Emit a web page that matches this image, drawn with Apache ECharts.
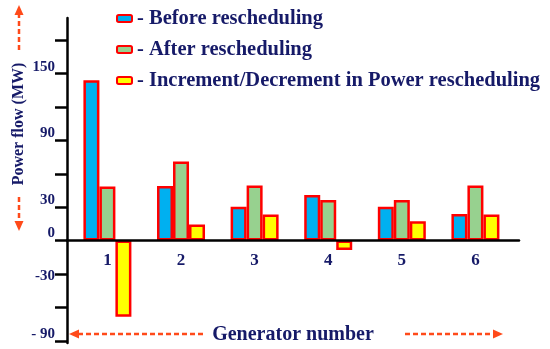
<!DOCTYPE html>
<html><head><meta charset="utf-8">
<script src="https://cdn.jsdelivr.net/npm/echarts@6/dist/echarts.min.js"></script>
<style>html,body{margin:0;padding:0;background:#fff}#c{width:550px;height:349px}</style>
</head><body><div id="c"></div>
<script>
// ---- data ----
const generators = ['1', '2', '3', '4', '5', '6'];
const beforeResched = [144, 49, 30.5, 41, 30.5, 24];
const afterResched = [48.5, 71, 49.5, 36.5, 36.5, 49.5];
const incrDecr = [-68.5, 14.5, 23.5, -8.5, 17.5, 23.5];
const seriesNames = ['Before rescheduling', 'After rescheduling', 'Increment/Decrement in Power rescheduling'];
const yTickValues = [-90, -60, -30, 0, 30, 60, 90, 120, 150, 180];
const yLabelValues = [-90, -30, 0, 30, 90, 150];
const yLabelTexts = ['- 90', '-30', '0', '30', '90', '150'];
const xLabelValues = [1, 2, 3, 4, 5, 6];

// ---- styling ----
const NAVY = '#161a68';
const RED = '#ff0000';
const ARROW = '#ff4a1a';
const FONT = "'Liberation Serif','Times New Roman',serif";
const fills = ['#00b0f0', '#97d18f', '#ffff00'];
const dataSets = [beforeResched, afterResched, incrDecr];

const W = 550, H = 349;
const GRID = {left: 67, right: 31, top: 18, bottom: 6};
const Y_MIN = -92, Y_MAX = 200;
// place the x axis (line, labels, name) at the y = 0 level
const plotH = H - GRID.top - GRID.bottom;
const zeroY = GRID.top + (Y_MAX - 0) / (Y_MAX - Y_MIN) * plotH;
const xAxisOffset = -((H - GRID.bottom) - zeroY);

const chart = echarts.init(document.getElementById('c'), null, {renderer: 'canvas'});

function dashedArrow(x1, y1, x2, y2) {
  const dx = x2 - x1, dy = y2 - y1, L = Math.hypot(dx, dy);
  const ux = dx / L, uy = dy / L, px = -uy, py = ux;
  const hl = 10, hw = 4.5;
  const bx = x2 - ux * hl, by = y2 - uy * hl;
  return [
    {type: 'line', shape: {x1: x1, y1: y1, x2: bx, y2: by},
     style: {stroke: ARROW, lineWidth: 2.5, lineDash: [5, 3]}},
    {type: 'polygon', shape: {points: [[x2, y2], [bx + px * hw, by + py * hw], [bx - px * hw, by - py * hw]]},
     style: {fill: ARROW}}
  ];
}

const option = {
  animation: false,
  backgroundColor: '#fff',
  grid: Object.assign({containLabel: false, outerBoundsMode: 'none'}, GRID),
  legend: {
    orient: 'vertical', left: 116, top: 8, itemGap: 10, padding: 0,
    itemWidth: 15, itemHeight: 7,
    formatter: '- {name}',
    textStyle: {fontFamily: FONT, fontWeight: 'bold', fontSize: 20.5, color: NAVY, lineHeight: 20},
    data: seriesNames
  },
  xAxis: {
    type: 'value', min: 0.451, max: 6.592, z: 10,
    position: 'bottom', offset: xAxisOffset,
    name: 'Generator number', nameLocation: 'middle', nameGap: 84,
    nameTextStyle: {fontFamily: FONT, fontWeight: 'bold', fontSize: 20, color: NAVY},
    axisLine: {onZero: false, lineStyle: {color: '#000', width: 2.5}},
    axisTick: {show: false},
    splitLine: {show: false},
    axisLabel: {
      customValues: xLabelValues, margin: 12,
      fontFamily: FONT, fontWeight: 'bold', fontSize: 17, color: NAVY,
      formatter: v => generators[Math.round(v) - 1]
    }
  },
  yAxis: {
    type: 'value', min: Y_MIN, max: Y_MAX, z: 10,
    axisLine: {show: true, onZero: false, lineStyle: {color: '#000', width: 2.5}},
    axisTick: {show: true, inside: false, length: 12, customValues: yTickValues,
               lineStyle: {color: '#000', width: 2.5}},
    splitLine: {show: false},
    axisLabel: {
      customValues: yLabelValues, margin: 12,
      fontFamily: FONT, fontWeight: 'bold', fontSize: 15, color: NAVY,
      formatter: v => {
        const t = yLabelTexts[yLabelValues.indexOf(v)];
        return v === -30 ? '{d|' + t + '}' : '{u|' + t + '}';
      },
      rich: {
        u: {fontFamily: FONT, fontWeight: 'bold', fontSize: 15, color: NAVY, padding: [0, 0, 14, 0]},
        d: {fontFamily: FONT, fontWeight: 'bold', fontSize: 15, color: NAVY, padding: [5, 0, 0, 0]}
      }
    }
  },
  series: seriesNames.map((name, s) => ({
    name: name, type: 'bar', barWidth: 16, barGap: '0%',
    itemStyle: {color: fills[s], borderColor: RED, borderWidth: 2.5},
    data: dataSets[s].map((v, i) => [xLabelValues[i], v])
  })),
  graphic: [
    {type: 'text', x: 19, y: 124, rotation: Math.PI / 2,
     style: {text: 'Power flow (MW)', fill: NAVY, font: 'bold 16px ' + FONT,
             align: 'center', verticalAlign: 'middle'}},
    ...dashedArrow(19, 50, 19, 5),
    ...dashedArrow(19, 197, 19, 231),
    ...dashedArrow(203, 334, 69, 334),
    ...dashedArrow(405, 334, 503, 334)
  ]
};
chart.setOption(option);
</script></body></html>
